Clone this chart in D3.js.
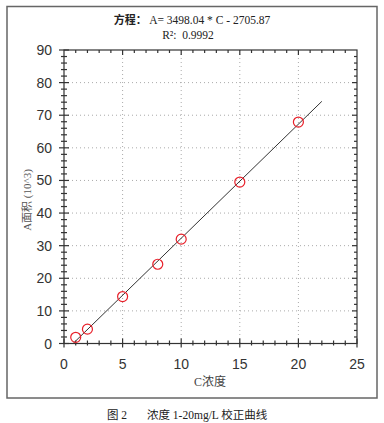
<!DOCTYPE html>
<html><head><meta charset="utf-8">
<script src="https://cdn.jsdelivr.net/npm/d3@7"></script>
<style>body{margin:0;background:#fff}svg{display:block}</style>
</head><body>
<script>
const concentrations = [1, 2, 5, 8, 10, 15, 20];
const areas = [1.9, 4.4, 14.4, 24.3, 32.0, 49.5, 67.9];
const xTicks = [0, 5, 10, 15, 20, 25];
const yTicks = [0, 10, 20, 30, 40, 50, 60, 70, 80, 90];
const fitSlope = 3.49804, fitIntercept = -2.70587; // in 10^3 units
const fitRange = [0.8, 22];
const eqLine1 = "A= 3498.04 * C - 2705.87";
const eqLine2 = "0.9992";

const W = 384, H = 423;
const svg = d3.select("body").append("svg").attr("width", W).attr("height", H);
const m = {l: 64, r: 357, t: 50, b: 343.5};
const x = d3.scaleLinear().domain([0, 25]).range([m.l, m.r]);
const y = d3.scaleLinear().domain([0, 90]).range([m.b, m.t]);

// outer frame
svg.append("rect").attr("x", 7).attr("y", 6.5).attr("width", 370).attr("height", 391.5)
  .attr("fill", "none").attr("stroke", "#666").attr("stroke-width", 1.5);

// grid
const g = svg.append("g");
g.selectAll("line.gx").data(xTicks.filter(d => d > 0 && d < 25)).enter().append("line")
  .attr("x1", d => x(d)).attr("x2", d => x(d)).attr("y1", m.t).attr("y2", m.b)
  .attr("stroke", "#aaa").attr("stroke-dasharray", "1,3");
g.selectAll("line.gy").data(yTicks.filter(d => d > 0 && d < 90)).enter().append("line")
  .attr("y1", d => y(d)).attr("y2", d => y(d)).attr("x1", m.l).attr("x2", m.r)
  .attr("stroke", "#aaa").attr("stroke-dasharray", "1,3");

// frame of plot
svg.append("rect").attr("x", m.l).attr("y", m.t).attr("width", m.r - m.l).attr("height", m.b - m.t)
  .attr("fill", "none").attr("stroke", "#333").attr("stroke-width", 1.2);

const tickColor = "#333";
const xMinor = d3.range(0, 26, 1);
svg.append("g").selectAll("line").data(xMinor).enter().append("line")
  .attr("x1", d => x(d)).attr("x2", d => x(d))
  .attr("y1", d => d % 5 === 0 ? m.b - 5 : m.b - 3)
  .attr("y2", d => d % 5 === 0 ? m.b + 4 : m.b + 2)
  .attr("stroke", tickColor).attr("stroke-width", 1.2);
svg.append("g").selectAll("line").data(xMinor.filter(d => d > 0 && d < 25)).enter().append("line")
  .attr("x1", d => x(d)).attr("x2", d => x(d))
  .attr("y1", m.t).attr("y2", d => d % 5 === 0 ? m.t + 5 : m.t + 3)
  .attr("stroke", tickColor).attr("stroke-width", 1.2);
const yMinor = d3.range(0, 91, 2);
svg.append("g").selectAll("line").data(yMinor).enter().append("line")
  .attr("y1", d => y(d)).attr("y2", d => y(d))
  .attr("x1", d => d % 10 === 0 ? m.l - 5 : m.l - 3)
  .attr("x2", d => d % 10 === 0 ? m.l + 5 : m.l + 3)
  .attr("stroke", tickColor).attr("stroke-width", 1.2);
svg.append("g").selectAll("line").data(yMinor.filter(d => d > 0 && d < 90)).enter().append("line")
  .attr("y1", d => y(d)).attr("y2", d => y(d))
  .attr("x1", m.r).attr("x2", d => d % 10 === 0 ? m.r - 5 : m.r - 3)
  .attr("stroke", tickColor).attr("stroke-width", 1.2);

// tick labels
svg.append("g").selectAll("text").data(xTicks).enter().append("text")
  .attr("x", d => x(d)).attr("y", 369).attr("text-anchor", "middle")
  .attr("font-family", "Liberation Sans, Arial, sans-serif").attr("font-size", 14).attr("fill", "#333")
  .text(d => d);
svg.append("g").selectAll("text").data(yTicks).enter().append("text")
  .attr("x", 52).attr("y", d => y(d) + 5).attr("text-anchor", "end")
  .attr("font-family", "Liberation Sans, Arial, sans-serif").attr("font-size", 14).attr("fill", "#333")
  .text(d => d);

// axis titles
svg.append("text").attr("x", 210).attr("y", 386).attr("text-anchor", "middle")
  .attr("font-family", "Liberation Serif, Noto Sans CJK SC, serif").attr("font-size", 12).attr("fill", "#444")
  .text("C浓度");
svg.append("text").attr("transform", "translate(31,200) rotate(-90)").attr("text-anchor", "middle")
  .attr("font-family", "Liberation Serif, Noto Sans CJK SC, serif").attr("font-size", 11).attr("fill", "#555")
  .text("A面积 (10^3)");

// fit line
const line = d3.line().x(d => x(d)).y(d => y(fitSlope * d + fitIntercept));
svg.append("path").datum(fitRange).attr("d", line)
  .attr("fill", "none").attr("stroke", "#333").attr("stroke-width", 1);

// points
svg.append("g").selectAll("circle").data(concentrations).enter().append("circle")
  .attr("cx", d => x(d)).attr("cy", (d, i) => y(areas[i])).attr("r", 5)
  .attr("fill", "none").attr("stroke", "#e8202a").attr("stroke-width", 1.2);

// equation
const eq = svg.append("text").attr("x", 192).attr("y", 23.5).attr("text-anchor", "middle")
  .attr("font-family", "Liberation Serif, serif").attr("font-size", 11.5).attr("fill", "#222");
eq.append("tspan").attr("font-family", "Noto Sans CJK SC, sans-serif").attr("font-weight", "bold").attr("font-size", 11).text("方程： ");
eq.append("tspan").text(eqLine1);
const eq2 = svg.append("text").attr("x", 188).attr("y", 38.5).attr("text-anchor", "middle")
  .attr("font-family", "Liberation Serif, serif").attr("font-size", 11.5).attr("fill", "#222")
  .attr("xml:space", "preserve")
  .text("R²:  " + eqLine2);

// caption
svg.append("text").attr("x", 107).attr("y", 419)
  .attr("font-family", "Liberation Serif, Noto Sans CJK SC, serif").attr("font-size", 11.5).attr("fill", "#222")
  .text("图 2");
svg.append("text").attr("x", 147).attr("y", 419)
  .attr("font-family", "Liberation Serif, Noto Sans CJK SC, serif").attr("font-size", 11.5).attr("fill", "#222")
  .text("浓度 1-20mg/L 校正曲线");
</script>
</body></html>
